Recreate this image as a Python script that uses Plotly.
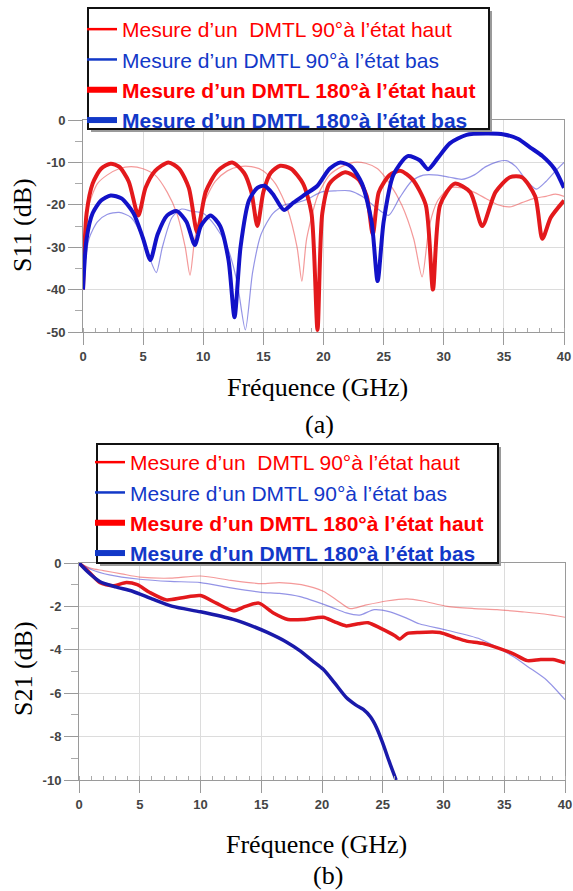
import plotly.graph_objects as go

# ---------------- data : S11 (a) ----------------
x_r180_s11 = [0, 0.3, 0.8, 1.5, 2.3, 3.0, 3.8, 4.6, 5.2, 6.0, 7.1, 8.0, 8.8, 9.5, 10.2, 11.2, 12.4, 13.4,
              14.0, 14.5, 15.0, 15.6, 16.4, 17.3, 18.3, 19.0, 19.5, 19.9, 20.5, 21.8, 22.9, 23.6, 24.1,
              24.6, 25.5, 26.4, 27.4, 28.5, 29.1, 29.7, 30.9, 32.2, 33.2, 34.3, 35.5, 36.5, 37.6, 38.2,
              38.9, 40]
y_r180_s11 = [-40, -22, -15, -11.5, -10.3, -11, -14.5, -22.5, -16, -12, -10, -11.5, -16, -26.5, -17, -12,
              -10, -12.5, -17, -25, -17, -12.5, -10.8, -11.5, -15, -22, -49.5, -22, -15, -12.3, -14, -18,
              -27, -17, -13, -12, -14, -20, -40, -20, -15, -17, -25, -17, -13.5, -13.5, -18, -28, -23, -19]

x_b180_s11 = [0, 0.3, 0.8, 1.5, 2.3, 3.2, 4.2, 5.0, 5.6, 6.2, 7.0, 7.8, 8.6, 9.3, 9.8, 10.6, 11.4, 12.1,
              12.6, 13.1, 13.8, 14.5, 15.1, 15.8, 16.7, 17.5, 18.5, 19.5, 20.5, 21.4, 22.3, 23.2, 24.0,
              24.5, 25.0, 25.8, 27.0, 28.0, 28.7, 29.5, 30.5, 31.9, 33.5, 35.0, 36.2, 37.2, 38.2, 39.2, 40]
y_b180_s11 = [-40, -28, -22, -19, -17.8, -18.5, -22, -28, -33, -27, -22.5, -21.5, -24, -29.5, -25, -22.5,
              -25, -33, -46.5, -30, -19, -16, -15.5, -17.5, -21.2, -19.5, -17.5, -15.5, -11.5, -10, -11,
              -15, -24, -38, -24, -13, -8.5, -9.5, -11.6, -9, -5.5, -3.5, -3.2, -3.4, -4.5, -6.5, -8.5,
              -11.5, -16]

x_r90_s11 = [0, 0.5, 1.2, 2.0, 3.0, 4.0, 5.0, 6.0, 7.0, 7.8, 8.5, 8.9, 9.3, 10.0, 11.0, 12.0, 13.0, 14.0,
             15.0, 16.0, 17.0, 17.8, 18.2, 18.6, 19.5, 20.5, 21.5, 22.5, 23.5, 24.5, 25.5, 26.5, 27.5,
             28.2, 28.8, 29.5, 30.5, 31.5, 32.5, 33.5, 34.5, 35.5, 36.5, 37.5, 38.5, 39.3, 40]
y_r90_s11 = [-30, -20, -15, -13, -11.5, -11, -11.5, -13, -17, -22, -30, -36.6, -28, -20, -14.5, -12, -11,
             -11, -12, -15, -21, -30, -38, -28, -18, -13, -11, -10, -10.2, -11.5, -15, -20, -28, -37,
             -25, -19, -16, -16, -17, -18.5, -20, -20.5, -19.5, -18.5, -18, -17.5, -18]

x_b90_s11 = [0, 0.5, 1.2, 2.0, 3.0, 4.0, 5.0, 5.6, 6.1, 6.6, 7.4, 8.2, 9.0, 10.0, 11.0, 12.0, 12.8, 13.5,
             14.1, 14.8, 15.8, 16.8, 17.8, 18.8, 19.8, 21.0, 22.2, 23.2, 24.3, 25.4, 26.3, 27.3, 28.3,
             29.5, 30.5, 31.5, 32.5, 33.5, 34.5, 35.2, 36.0, 36.8, 37.7, 38.5, 39.3, 40]
y_b90_s11 = [-38, -28, -24, -22.3, -21.8, -23, -28, -33, -36, -30, -23, -21, -21.5, -22, -25, -30, -38,
             -49.5, -36, -27, -22, -20, -19.5, -18.5, -17, -16.7, -16.7, -18, -20.5, -22.5, -18.5, -14.5,
             -13, -13, -13.5, -14, -13, -11, -9.8, -9.6, -11, -14, -16.3, -14.5, -12, -10]

# ---------------- data : S21 (b) ----------------
x_r180_s21 = [0, 0.8, 1.7, 2.8, 3.9, 4.8, 5.8, 7.2, 8.5, 10.0, 11.3, 12.7, 13.7, 14.8, 16.0, 17.2, 18.5,
              20.1, 21.0, 22.0, 23.0, 23.8, 24.8, 26.0, 26.4, 27.0, 28.0, 29.7, 31.0, 31.9, 33.2, 34.4,
              35.8, 36.9, 38.0, 39.0, 40]
y_r180_s21 = [0, -0.4, -0.9, -1.05, -0.9, -1.0, -1.35, -1.7, -1.6, -1.5, -1.85, -2.2, -2.0, -1.85, -2.3,
              -2.6, -2.6, -2.5, -2.7, -2.9, -2.8, -2.75, -3.0, -3.35, -3.5, -3.25, -3.2, -3.2, -3.45,
              -3.6, -3.7, -3.9, -4.2, -4.5, -4.45, -4.45, -4.6]

x_b180_s21 = [0, 0.8, 1.7, 3.0, 4.4, 6.0, 7.7, 10.0, 12.7, 14.0, 15.5, 17.1, 18.2, 19.2, 20.1, 21.0, 22.0,
              22.8, 23.4, 24.0, 24.5, 25.0, 25.5, 26.1]
y_b180_s21 = [0, -0.45, -0.85, -1.1, -1.3, -1.65, -2.0, -2.25, -2.6, -2.85, -3.2, -3.65, -4.05, -4.5,
              -4.9, -5.5, -6.2, -6.55, -6.75, -7.1, -7.6, -8.3, -9.1, -10]

x_r90_s21 = [0, 1, 2, 3.5, 5, 7.5, 10, 12.5, 15, 16.5, 18.3, 20.1, 21.2, 22.3, 23.5, 25.3, 27.0, 28.3,
             30.3, 32.5, 34.4, 36.5, 38.3, 40]
y_r90_s21 = [0, -0.25, -0.35, -0.5, -0.65, -0.7, -0.6, -0.8, -0.95, -0.9, -1.0, -1.3, -1.7, -2.1, -1.95,
             -1.75, -1.65, -1.75, -2.0, -2.1, -2.15, -2.25, -2.35, -2.5]

x_b90_s21 = [0, 1, 2.5, 5, 7.5, 10, 12.5, 15, 16.5, 18.2, 20.6, 22.0, 23.1, 24.3, 25.6, 27.0, 28.0, 30.3,
             33.0, 35.7, 37.0, 38.5, 40]
y_b90_s21 = [0, -0.3, -0.55, -0.75, -0.85, -0.9, -1.15, -1.35, -1.4, -1.55, -2.0, -2.3, -2.4, -2.15,
             -2.25, -2.55, -2.8, -3.1, -3.5, -4.3, -4.8, -5.4, -6.3]

# ---------------- labels ----------------
legend_names = [
    "Mesure d\u2019un\u00a0 DMTL 90\u00b0\u00e0 l\u2019\u00e9tat haut",
    "Mesure d\u2019un DMTL 90\u00b0\u00e0 l\u2019\u00e9tat bas",
    "Mesure d\u2019un DMTL 180\u00b0\u00e0 l\u2019\u00e9tat haut",
    "Mesure d\u2019un DMTL 180\u00b0\u00e0 l\u2019\u00e9tat bas",
]
x_tickvals = [0, 5, 10, 15, 20, 25, 30, 35, 40]
x_ticktext = ["0", "5", "10", "15", "20", "25", "30", "35", "40"]
s11_tickvals = [0, -10, -20, -30, -40, -50]
s11_ticktext = ["0", "-10", "-20", "-30", "-40", "-50"]
s21_tickvals = [0, -2, -4, -6, -8, -10]
s21_ticktext = ["0", "-2", "-4", "-6", "-8", "-10"]

# ---------------- styles ----------------
RED_THIN = "rgba(235,70,70,0.55)"
BLUE_THIN = "rgba(60,60,210,0.55)"
RED_THICK = "#e3191c"
BLUE_THICK_A = "#1212c8"
BLUE_THICK_B = "#1a1aaa"
LEG_RED = "#ff0000"
LEG_BLUE = "#1238c8"

W, H = 573, 891


def px_x(p):
    return p / W


def px_y(p):
    return 1 - p / H


fig = go.Figure()

series = [
    (x_r90_s11, y_r90_s11, RED_THIN, 1.2, "x", "y"),
    (x_b90_s11, y_b90_s11, BLUE_THIN, 1.2, "x", "y"),
    (x_r180_s11, y_r180_s11, RED_THICK, 4, "x", "y"),
    (x_b180_s11, y_b180_s11, BLUE_THICK_A, 4, "x", "y"),
    (x_r90_s21, y_r90_s21, RED_THIN, 1.2, "x2", "y2"),
    (x_b90_s21, y_b90_s21, BLUE_THIN, 1.2, "x2", "y2"),
    (x_r180_s21, y_r180_s21, RED_THICK, 3.5, "x2", "y2"),
    (x_b180_s21, y_b180_s21, BLUE_THICK_B, 3.5, "x2", "y2"),
]
for xs, ys, col, w, xa, ya in series:
    fig.add_trace(go.Scatter(x=xs, y=ys, mode="lines", xaxis=xa, yaxis=ya,
                             line=dict(color=col, width=w, shape="spline", smoothing=0.7),
                             showlegend=False, hoverinfo="skip"))

# legend entries (legend-only traces)
leg_cols = [LEG_RED, LEG_BLUE, LEG_RED, LEG_BLUE]
leg_w = [2.5, 2.5, 6, 6]
leg_bold = [False, False, True, True]
for lg, xa, ya in [("legend", "x", "y"), ("legend2", "x2", "y2")]:
    for name, col, w, b in zip(legend_names, leg_cols, leg_w, leg_bold):
        txt = f'<span style="color:{col}">' + (f"<b>{name}</b>" if b else name) + "</span>"
        fig.add_trace(go.Scatter(x=[None], y=[None], mode="lines", xaxis=xa, yaxis=ya,
                                 line=dict(color=col, width=w), name=txt, legend=lg,
                                 showlegend=True))

tickfont = dict(family="Arial, Liberation Sans", size=13, color="#444", weight="bold")
common_x = dict(range=[0, 40], tickmode="array", tickvals=x_tickvals, ticktext=x_ticktext,
                showgrid=True, gridcolor="#dcdcdc", gridwidth=1, zeroline=False,
                showline=True, linecolor="#9a9a9a", linewidth=1, mirror=True,
                ticks="outside", ticklen=12, tickcolor="#9a9a9a", tickfont=tickfont,
                ticklabeloverflow="allow",
                minor=dict(dtick=1, ticks="inside", ticklen=4, tickcolor="#aaa", showgrid=False),
                automargin=False, fixedrange=True)
common_y = dict(showgrid=True, gridcolor="#dcdcdc", gridwidth=1, zeroline=False,
                showline=True, linecolor="#9a9a9a", linewidth=1, mirror=True,
                ticks="outside", ticklen=14, tickcolor="#9a9a9a", tickfont=tickfont,
                ticklabeloverflow="allow",
                tickmode="array", automargin=False, fixedrange=True)

legend_common = dict(xanchor="left", yanchor="top", bgcolor="rgba(0,0,0,0)",
                     borderwidth=0, font=dict(family="Arial, Liberation Sans", size=21),
                     tracegroupgap=0, itemwidth=30)

fig.update_layout(
    width=W, height=H,
    margin=dict(l=0, r=0, t=0, b=0, autoexpand=False),
    paper_bgcolor="white", plot_bgcolor="white",
    xaxis=dict(domain=[px_x(83), px_x(564)], anchor="y", **common_x),
    yaxis=dict(domain=[px_y(332), px_y(120)], anchor="x", range=[-50, 0],
               tickvals=s11_tickvals, ticktext=s11_ticktext,
               minor=dict(dtick=5, ticks="outside", ticklen=7, tickcolor="#aaa", showgrid=False),
               **common_y),
    xaxis2=dict(domain=[px_x(79), px_x(565)], anchor="y2", **common_x),
    yaxis2=dict(domain=[px_y(780), px_y(563)], anchor="x2", range=[-10, 0],
                tickvals=s21_tickvals, ticktext=s21_ticktext,
                minor=dict(dtick=1, ticks="outside", ticklen=7, tickcolor="#aaa", showgrid=False),
                **common_y),
    legend=dict(x=px_x(82), y=px_y(9), **legend_common),
    legend2=dict(x=px_x(90), y=px_y(442), **legend_common),
)

# legend boxes (white frame with a light drop shadow)
for (bx0, by0, bx1, by1) in [(88, 8, 489, 129), (97, 444, 498, 563)]:
    fig.add_shape(type="rect", xref="paper", yref="paper", layer="above",
                  x0=px_x(bx0 + 3), x1=px_x(bx1 + 3), y0=px_y(by1 + 3), y1=px_y(by0 + 3),
                  fillcolor="#9a9a9a", line=dict(width=0))
    fig.add_shape(type="rect", xref="paper", yref="paper", layer="above",
                  x0=px_x(bx0), x1=px_x(bx1), y0=px_y(by1), y1=px_y(by0),
                  fillcolor="white", line=dict(color="#111", width=2))

serif = dict(family="Liberation Serif, Times New Roman, serif", size=26, color="black")
annots = [
    ("S11 (dB)", 22, 225, -90),
    ("Fr\u00e9quence (GHz)", 317, 387, 0),
    ("(a)", 319, 424, 0),
    ("S21 (dB)", 23, 669, -90),
    ("Fr\u00e9quence (GHz)", 316, 844, 0),
    ("(b)", 328, 875, 0),
]
for t, xp, yp, ang in annots:
    fig.add_annotation(text=t, x=px_x(xp), y=px_y(yp), xref="paper", yref="paper",
                       xanchor="center", yanchor="middle", showarrow=False,
                       textangle=ang, font=serif)

# remove the default 8 px page margin so the 573x891 figure fills the window exactly
fig.write_html("out.html", config={"displayModeBar": False},
               post_script="document.body.style.margin='0';document.body.style.overflow='hidden';")
